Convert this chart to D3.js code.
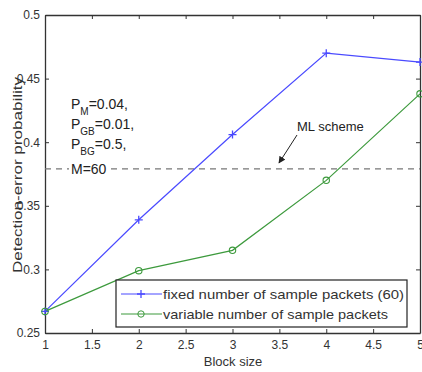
<!DOCTYPE html>
<html><head><meta charset="utf-8">
<script src="https://cdn.jsdelivr.net/npm/d3@7"></script>
<style>body{margin:0;background:#fff;} text{font-family:"Liberation Sans",Arial,sans-serif;}</style>
</head><body>
<svg id="c" width="422" height="372"></svg>
<script>
const blockSizes = [1, 2, 3, 4, 5];
const fixedVals = [0.267, 0.339, 0.406, 0.470, 0.463];
const variableVals = [0.267, 0.299, 0.315, 0.370, 0.438];
const mlScheme = 0.379;
const xTicks = [1, 1.5, 2, 2.5, 3, 3.5, 4, 4.5, 5];
const yTicks = [0.25, 0.3, 0.35, 0.4, 0.45, 0.5];
const legendLabels = ["fixed number of sample packets (60)", "variable number of sample packets"];

const svg = d3.select("#c");
const L = 45, R = 420, T = 15, B = 333;
const x = d3.scaleLinear().domain([1, 5]).range([L, R]);
const y = d3.scaleLinear().domain([0.25, 0.5]).range([B, T]);
const blue = "#4a4aff", green = "#3d9a3d";

const fmt = d => String(d);
svg.append("g").attr("transform", `translate(0,${B})`)
  .call(d3.axisBottom(x).tickValues(xTicks).tickFormat(fmt).tickSizeInner(-4).tickSizeOuter(0).tickPadding(7));
svg.append("g").attr("transform", `translate(0,${T})`)
  .call(d3.axisTop(x).tickValues(xTicks).tickFormat("").tickSizeInner(-4).tickSizeOuter(0));
svg.append("g").attr("transform", `translate(${L},0)`)
  .call(d3.axisLeft(y).tickValues(yTicks).tickFormat(fmt).tickSizeInner(-4).tickSizeOuter(0).tickPadding(5));
svg.append("g").attr("transform", `translate(${R},0)`)
  .call(d3.axisRight(y).tickValues(yTicks).tickFormat("").tickSizeInner(-4).tickSizeOuter(0));
svg.selectAll(".domain").attr("stroke", "#333").attr("stroke-width", 1.3);
svg.selectAll(".tick line").attr("stroke", "#333");
svg.selectAll(".tick text").attr("font-size", 12).attr("fill", "#333");

svg.append("line").attr("x1", L).attr("x2", R).attr("y1", y(mlScheme)).attr("y2", y(mlScheme))
  .attr("stroke", "#777").attr("stroke-width", 1.3).attr("stroke-dasharray", "6,5");

const line = d3.line().x((d, i) => x(blockSizes[i])).y(d => y(d));
svg.append("path").datum(fixedVals).attr("d", line).attr("fill", "none").attr("stroke", blue).attr("stroke-width", 1.2);
svg.append("path").datum(variableVals).attr("d", line).attr("fill", "none").attr("stroke", green).attr("stroke-width", 1.2);

svg.selectAll(".pm").data(fixedVals).enter().append("path")
  .attr("d", "M-4,0H4M0,-4V4").attr("stroke", blue).attr("stroke-width", 1.3)
  .attr("transform", (d, i) => `translate(${x(blockSizes[i])},${y(d)})`);
svg.selectAll(".cm").data(variableVals).enter().append("circle")
  .attr("cx", (d, i) => x(blockSizes[i])).attr("cy", d => y(d)).attr("r", 3.2)
  .attr("fill", "none").attr("stroke", green).attr("stroke-width", 1.1);

function sub(base, s, rest, yy) {
  const tx = svg.append("text").attr("x", 71).attr("y", yy).attr("font-size", 14).attr("fill", "#222");
  tx.append("tspan").text(base);
  tx.append("tspan").attr("font-size", 10).attr("dy", 6).text(s);
  tx.append("tspan").attr("dy", -6).text(rest);
}
sub("P", "M", "=0.04,", 109);
sub("P", "GB", "=0.01,", 129);
sub("P", "BG", "=0.5,", 149);
svg.append("rect").attr("x", 69).attr("y", y(mlScheme) - 7).attr("width", 38).attr("height", 14).attr("fill", "#fff");
svg.append("text").attr("x", 71).attr("y", y(mlScheme) + 5).attr("font-size", 14).attr("fill", "#222").text("M=60");

svg.append("text").attr("x", 297).attr("y", 131).attr("font-size", 13).attr("fill", "#222").text("ML scheme");
svg.append("defs").append("marker").attr("id", "ah").attr("viewBox", "0 0 10 10").attr("refX", 9).attr("refY", 5)
  .attr("markerWidth", 7).attr("markerHeight", 7).attr("orient", "auto")
  .append("path").attr("d", "M0,0L10,5L0,10z").attr("fill", "#222");
svg.append("line").attr("x1", 297).attr("y1", 135).attr("x2", 279).attr("y2", 163)
  .attr("stroke", "#222").attr("stroke-width", 1).attr("marker-end", "url(#ah)");

const lg = svg.append("g");
lg.append("rect").attr("x", 116).attr("y", 280).attr("width", 291).attr("height", 47)
  .attr("fill", "#fff").attr("stroke", "#222").attr("stroke-width", 1.2);
[[blue, 294], [green, 314]].forEach(([c, yy], i) => {
  lg.append("line").attr("x1", 121).attr("x2", 162).attr("y1", yy).attr("y2", yy).attr("stroke", c).attr("stroke-width", 1.2);
  if (i === 0) lg.append("path").attr("d", "M-4,0H4M0,-4V4").attr("stroke", c).attr("stroke-width", 1.3).attr("transform", `translate(141,${yy})`);
  else lg.append("circle").attr("cx", 141).attr("cy", yy).attr("r", 3.2).attr("fill", "none").attr("stroke", c);
  lg.append("text").attr("x", 163).attr("y", yy + 5).attr("font-size", 13.5).attr("fill", "#333")
    .attr("textLength", i === 0 ? 241 : 225).attr("lengthAdjust", "spacingAndGlyphs").text(legendLabels[i]);
});

svg.append("text").attr("x", 233).attr("y", 366).attr("text-anchor", "middle").attr("font-size", 13).attr("fill", "#333").text("Block size");
svg.append("text").attr("transform", `translate(22,175) rotate(-90)`).attr("text-anchor", "middle")
  .attr("font-size", 13).attr("fill", "#333").attr("textLength", 196).attr("lengthAdjust", "spacingAndGlyphs")
  .text("Detection-error probability");
</script>
</body></html>
